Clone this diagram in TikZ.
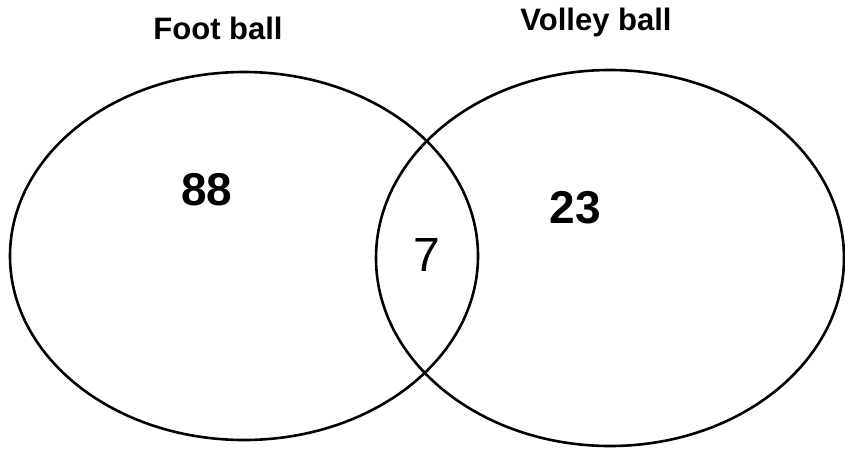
\documentclass[tikz,border=0pt]{standalone}
\usepackage{fontspec}
\setmainfont{Liberation Sans}
\begin{document}
\begin{tikzpicture}[x=1pt,y=-1pt,
  setc/.style={draw=black,line width=2.6pt},
  lab/.style={font=\bfseries\fontsize{31}{33}\selectfont,inner sep=0pt},
  num/.style={font=\bfseries\fontsize{46}{48}\selectfont,inner sep=0pt},
  mid/.style={font=\fontsize{48}{50}\selectfont,inner sep=0pt}]
\useasboundingbox (0,0) rectangle (845,448);
\draw[setc] (244,256) ellipse[x radius=234, y radius=184];
\draw[setc] (610,258) ellipse[x radius=234, y radius=188];
\node[lab] (foot) at (218,28) {Foot ball};
\node[lab] (volley) at (596,22) {Volley ball};
\node[num] (a) at (207,190) {88};
\node[num] (b) at (575,208) {23};
\node[mid] (c) at (427,255) {7};
\end{tikzpicture}
\end{document}
